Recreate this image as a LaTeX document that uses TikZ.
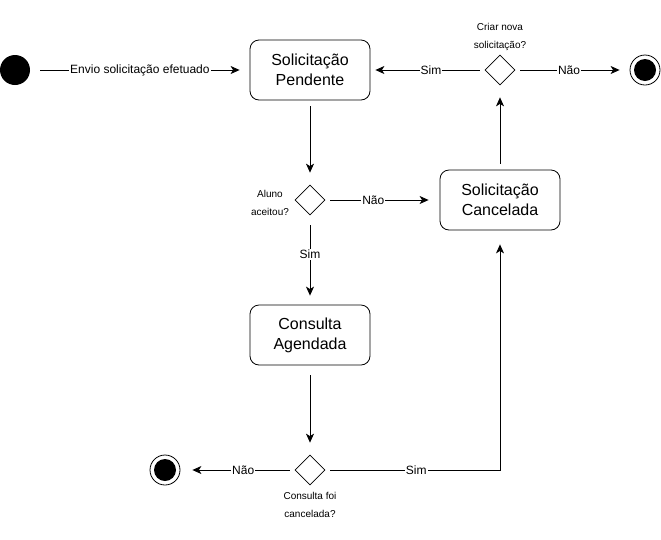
\documentclass[tikz,border=0pt]{standalone}
\usepackage{fontspec}
\setmainfont{Liberation Sans}
\usetikzlibrary{shapes.geometric,arrows.meta}
\begin{document}
\begin{tikzpicture}[x=1pt,y=-1pt,
  state/.style={draw, rounded corners=9pt, minimum width=120pt, minimum height=60pt,
    align=center, font=\fontsize{16}{20}\selectfont, line width=0.8pt},
  choice/.style={draw, diamond, aspect=1, minimum width=30pt, minimum height=30pt,
    inner sep=0pt, line width=0.7pt},
  initial/.style={circle, fill=black, minimum size=30pt, inner sep=0pt},
  final/.style={circle, draw, line width=0.8pt, minimum size=30pt, inner sep=0pt,
    path picture={\fill (path picture bounding box.center) circle (11pt);}},
  flow/.style={line width=0.8pt, -{Stealth[length=9pt,width=8pt,inset=2.5pt]}},
  elabel/.style={fill=white, inner sep=1pt, font=\fontsize{12}{14}\selectfont},
  qlabel/.style={align=center, font=\fontsize{10}{18}\selectfont}]
\useasboundingbox (0,0) rectangle (661,539);

% states and decisions
\node[initial] (start) at (15,70) {};
\node[state] (pend) at (310,70) {Solicitação\\Pendente};
\node[choice] (dnova) at (500,70) {};
\node[final] (end1) at (645,70) {};
\node[choice] (daceito) at (310,200) {};
\node[state] (canc) at (500,200) {Solicitação\\Cancelada};
\node[state] (cons) at (310,335) {Consulta\\Agendada};
\node[choice] (dcanc) at (310,470) {};
\node[final] (end2) at (165,470) {};

% decision questions
\node[qlabel] (qnova) at (500,37) {Criar nova\\solicitação?};
\node[qlabel] (qaceito) at (270,203) {Aluno\\aceitou?};
\node[qlabel] (qcanc) at (310,505) {Consulta foi\\cancelada?};

% transitions
\draw[flow, shorten <=10pt, shorten >=10pt] (start) -- node[elabel] {Envio solicitação efetuado} (pend);
\draw[flow, shorten <=5pt, shorten >=5pt] (dnova) -- node[elabel, pos=0.47] {Sim} (pend);
\draw[flow, shorten <=5pt, shorten >=10pt] (dnova) -- node[elabel, pos=0.47] {Não} (end1);
\draw[flow, shorten <=6pt, shorten >=12pt] (pend) -- (daceito);
\draw[flow, shorten <=5pt, shorten >=11pt] (daceito) -- node[elabel, pos=0.42] {Não} (canc);
\draw[flow, shorten <=10pt, shorten >=9pt] (daceito) -- node[elabel, pos=0.44] {Sim} (cons);
\draw[flow, shorten <=6pt, shorten >=12pt] (canc) -- (dnova);
\draw[flow, shorten <=10pt, shorten >=12pt] (cons) -- (dcanc);
\draw[flow, shorten <=5pt, shorten >=12pt] (dcanc) -- node[elabel, pos=0.45] {Não} (end2);
\draw[flow, shorten <=5pt, shorten >=14pt] (dcanc.east) -- node[elabel, pos=0.52] {Sim} (canc.south |- dcanc) -- (canc.south);
\end{tikzpicture}
\end{document}
